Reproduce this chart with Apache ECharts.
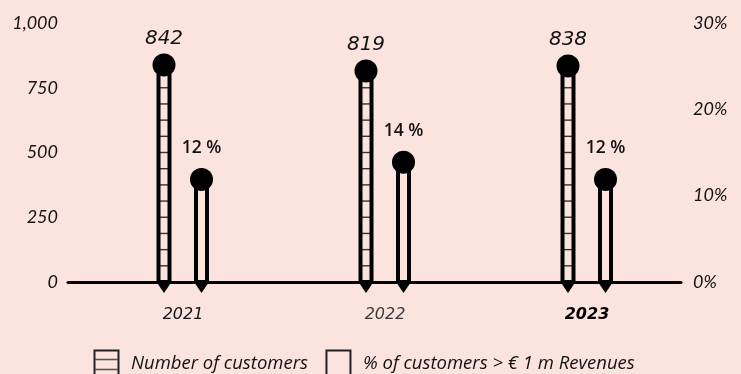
<!DOCTYPE html>
<html>
<head>
<meta charset="utf-8">
<style>
  html, body { margin: 0; padding: 0; background: #fce4de; }
  #chart { width: 741px; height: 374px; }
</style>
<script src="https://cdn.jsdelivr.net/npm/echarts@6/dist/echarts.min.js"></script>
</head>
<body>
<div id="chart"></div>
<script>
// Customer counts and share of customers above EUR 1 m revenues, per year
const years = ['2021', '2022', '2023'];
const customers = [842, 819, 838];
const shareOver1m = [12, 14, 12];
const customerTicks = [0, 250, 500, 750, 1000];
const shareTicks = [0, 10, 20, 30];

const INK = '#000';
const BG = '#fce4de';
const RUNG_STEP = 62.5;

const svgIcon = (withRungs) => {
  let s = '<svg xmlns="http://www.w3.org/2000/svg" width="27" height="30" viewBox="0 0 27 30">' +
    '<rect x="1.5" y="1.5" width="24" height="30" fill="none" stroke="#222" stroke-width="2"/>';
  if (withRungs) {
    s += '<line x1="2" y1="10.5" x2="25" y2="10.5" stroke="#555" stroke-width="1.6"/>' +
         '<line x1="2" y1="20.5" x2="25" y2="20.5" stroke="#555" stroke-width="1.6"/>';
  }
  s += '</svg>';
  return 'image://data:image/svg+xml;utf8,' + encodeURIComponent(s);
};

// One stem: outlined column, optional ladder rungs, ball on top, arrow head under the baseline
function stem(offset, withRungs, labelFn, labelStyle, labelGap) {
  return function (params, api) {
    const idx = api.value(0);
    const val = api.value(1);
    const top = api.coord([idx, val]);
    const base = api.coord([idx, 0]);
    const x = top[0] + offset;
    const w = 11;
    const children = [];
    if (withRungs) {
      for (let v = RUNG_STEP; v < val; v += RUNG_STEP) {
        const y = api.coord([idx, v])[1];
        children.push({
          type: 'line',
          shape: { x1: x - w / 2, y1: y, x2: x + w / 2, y2: y },
          style: { stroke: '#333', lineWidth: 1.4 }
        });
      }
    }
    children.push({
      type: 'rect',
      shape: { x: x - w / 2, y: top[1], width: w, height: base[1] - top[1] },
      style: { fill: null, stroke: INK, lineWidth: 4 }
    });
    children.push({
      type: 'polygon',
      shape: { points: [[x - 7.5, base[1]], [x + 7.5, base[1]], [x, base[1] + 11]] },
      style: { fill: INK }
    });
    children.push({
      type: 'circle',
      shape: { cx: x, cy: top[1] + 1, r: 11.5 },
      style: { fill: INK }
    });
    children.push({
      type: 'text',
      x: x,
      y: top[1] - labelGap,
      style: Object.assign({
        text: labelFn(val),
        align: 'center',
        verticalAlign: 'middle',
        fill: '#111'
      }, labelStyle)
    });
    return { type: 'group', children: children };
  };
}

const chart = echarts.init(document.getElementById('chart'), null, { renderer: 'canvas' });

chart.setOption({
  backgroundColor: BG,
  animation: false,
  grid: [
    { left: 82, right: 53, top: 23, bottom: 92 },
    { left: 68, right: 60, top: 23, bottom: 92 }
  ],
  legend: {
    top: 349,
    left: 93,
    padding: 0,
    itemWidth: 27,
    itemHeight: 30,
    itemGap: 17,
    selectedMode: false,
    textStyle: {
      fontFamily: 'Open Sans',
      fontStyle: 'italic',
      fontSize: 18.5,
      color: '#111',
      padding: [0, 0, 6, 6]
    },
    data: [
      { name: 'Number of customers', icon: svgIcon(true) },
      { name: '% of customers > € 1 m Revenues', icon: svgIcon(false) }
    ]
  },
  xAxis: [
    {
      type: 'category',
      gridIndex: 0,
      data: years,
      axisLine: { show: false },
      axisTick: { show: false },
      axisLabel: {
        margin: 25,
        fontFamily: 'DejaVu Sans',
        fontStyle: 'italic',
        fontSize: 16,
        color: '#111',
        formatter: (v) => v === '2023' ? '{b|' + v + '}' : (v === '2022' ? '{l|' + v + '}' : v),
        rich: {
          b: { fontFamily: 'DejaVu Sans', fontStyle: 'italic', fontWeight: 'bold', fontSize: 16, color: '#000' },
          l: { fontFamily: 'DejaVu Sans', fontStyle: 'italic', fontSize: 16, color: '#3a3a3a' }
        }
      }
    },
    {
      type: 'value',
      gridIndex: 1,
      min: 0,
      max: 1,
      axisLine: { show: true, lineStyle: { color: INK, width: 3 } },
      axisTick: { show: false },
      axisLabel: { show: false },
      splitLine: { show: false }
    }
  ],
  yAxis: [
    {
      type: 'value',
      gridIndex: 0,
      min: customerTicks[0],
      max: customerTicks[customerTicks.length - 1],
      interval: 250,
      axisLine: { show: false },
      axisTick: { show: false },
      splitLine: { show: false },
      axisLabel: {
        margin: 24,
        fontFamily: 'Lato',
        fontStyle: 'italic',
        fontSize: 18,
        color: '#111',
        formatter: (v) => v.toLocaleString('en-US')
      }
    },
    {
      type: 'value',
      gridIndex: 0,
      position: 'right',
      min: shareTicks[0],
      max: shareTicks[shareTicks.length - 1],
      interval: 10,
      axisLine: { show: false },
      axisTick: { show: false },
      splitLine: { show: false },
      axisLabel: {
        margin: 5,
        fontFamily: 'Lato',
        fontStyle: 'italic',
        fontSize: 18,
        color: '#111',
        formatter: (v) => v + '%'
      }
    },
    {
      type: 'value',
      gridIndex: 1,
      min: 0,
      max: 1,
      show: false
    }
  ],
  series: [
    {
      name: 'Number of customers',
      type: 'custom',
      xAxisIndex: 0,
      yAxisIndex: 0,
      z: 5,
      data: years.map((y, i) => [i, customers[i]]),
      renderItem: stem(-19, true, (v) => String(v),
        { fontFamily: 'DejaVu Sans', fontStyle: 'italic', fontSize: 20 }, 25)
    },
    {
      name: '% of customers > € 1 m Revenues',
      type: 'custom',
      xAxisIndex: 0,
      yAxisIndex: 1,
      z: 5,
      data: years.map((y, i) => [i, shareOver1m[i]]),
      renderItem: stem(18.5, false, (v) => v + ' %',
        { fontFamily: 'Open Sans', fontWeight: 600, fontSize: 17.5 }, 30)
    }
  ]
});
</script>
</body>
</html>
